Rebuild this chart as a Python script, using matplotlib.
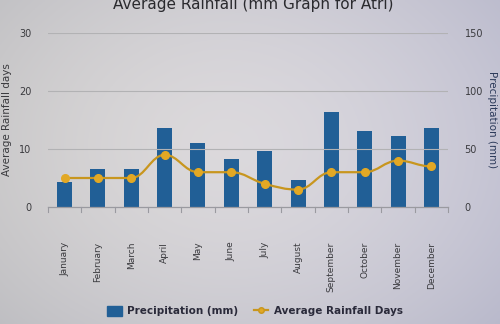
import numpy as np
import matplotlib
matplotlib.use("Agg")
import matplotlib.pyplot as plt
from matplotlib.path import Path
from matplotlib.patches import PathPatch
from matplotlib.lines import Line2D
from matplotlib.patches import Patch

months = ["January", "February", "March", "April", "May", "June", "July",
          "August", "September", "October", "November", "December"]
precip_mm = [21.5, 33, 33, 68, 55, 41, 48.5, 23, 82, 65.5, 61, 68.5]
rain_days = [5, 5, 5, 9, 6, 6, 4, 3, 6, 6, 8, 7]

bar_color = "#215f96"
line_color = "#c8961e"
marker_color = "#e2a824"
text_color = "#3a3a3e"

fig = plt.figure(figsize=(5.0, 3.24), dpi=100)

# soft screen-like backdrop, lighter in the middle and bluish to the right
bg = fig.add_axes([0, 0, 1, 1], zorder=-10)
yy, xx = np.mgrid[0:1:200j, 0:1:300j]
d = np.sqrt(((xx - 0.45) / 0.75) ** 2 + ((yy - 0.45) / 0.9) ** 2)
shade = np.clip(1 - 0.55 * d ** 1.6, 0, 1)
base_lo = np.array([0.60, 0.61, 0.66])
base_hi = np.array([0.86, 0.85, 0.84])
img = base_lo + (base_hi - base_lo) * shade[..., None]
img[..., 2] += 0.05 * xx
bg.imshow(np.clip(img, 0, 1), extent=[0, 1, 0, 1], aspect="auto", origin="upper")
bg.axis("off")

ax = fig.add_axes([48 / 500, 1 - 207 / 324, 400 / 500, 174 / 324])
ax.patch.set_alpha(0)
ax2 = ax.twinx()

x = np.arange(len(months))
ax2.bar(x, precip_mm, width=0.45, color=bar_color, zorder=2)
ax2.set_ylim(0, 150)
ax2.set_yticks([0, 50, 100, 150])

# smooth spline-style connector between the day markers
verts = [(x[0], rain_days[0])]
codes = [Path.MOVETO]
for i in range(len(x) - 1):
    y0, y1 = rain_days[i], rain_days[i + 1]
    prev_y = rain_days[i - 1] if i > 0 else y0
    next_y = rain_days[i + 2] if i + 2 < len(x) else y1
    s0 = 0 if (y0 - prev_y) * (y1 - y0) <= 0 else (y1 - prev_y) / 2
    s1 = 0 if (y1 - y0) * (next_y - y1) <= 0 else (next_y - y0) / 2
    verts += [(x[i] + 0.4, y0 + 0.4 * s0), (x[i + 1] - 0.4, y1 - 0.4 * s1), (x[i + 1], y1)]
    codes += [Path.CURVE4] * 3

ax.set_zorder(ax2.get_zorder() + 1)
ax.add_patch(PathPatch(Path(verts, codes), fill=False, edgecolor=line_color, lw=1.6, zorder=3))
ax.plot(x, rain_days, "o", color=marker_color, ms=5.5, zorder=4)
ax.set_ylim(0, 30)
ax.set_yticks([0, 10, 20, 30])
ax.set_xlim(-0.5, len(months) - 0.5)
ax.set_xticks(x)
ax.set_xticklabels(months, rotation=90, fontsize=6.5, color=text_color)
ax.tick_params(axis="x", length=0, pad=25)
for t in np.arange(-0.5, len(months), 1):
    ax.plot([t, t], [0, -0.9], color="#9a9aa0", lw=0.8, clip_on=False)

for a in (ax, ax2):
    for s in a.spines.values():
        s.set_visible(False)
    a.tick_params(axis="y", length=0, labelsize=7, colors=text_color, pad=12)
ax.spines["bottom"].set_visible(True)
ax.spines["bottom"].set_color("#9a9aa0")
ax.spines["bottom"].set_linewidth(0.9)

for v in [10, 20, 30]:
    ax.axhline(v, color="#b2b2b4", lw=0.8, zorder=0)

ax.set_ylabel("Average Rainfall days", fontsize=7.5, color=text_color, labelpad=5)
ax2.set_ylabel("Precipitation (mm)", fontsize=7.5, color="#2c3a5a", rotation=270,
               labelpad=10)

fig.text(0.506, 1 - 9 / 324, "Average Rainfall (mm Graph for Atri)", ha="center",
         va="baseline", fontsize=11, color="#2a2a2e")

handles = [Patch(color=bar_color),
           Line2D([], [], color=line_color, marker="o", mfc=marker_color, ms=4, lw=1.6)]
fig.legend(handles, ["Precipitation (mm)", "Average Rainfall Days"], loc="center",
           bbox_to_anchor=(0.51, 1 - 311 / 324), ncol=2, frameon=False,
           prop={"weight": "bold", "size": 7.5}, labelcolor="#2a2a3a",
           handlelength=1.4, handleheight=1.2, handletextpad=0.5, columnspacing=1.5)

fig.savefig("out.png", dpi=100)
